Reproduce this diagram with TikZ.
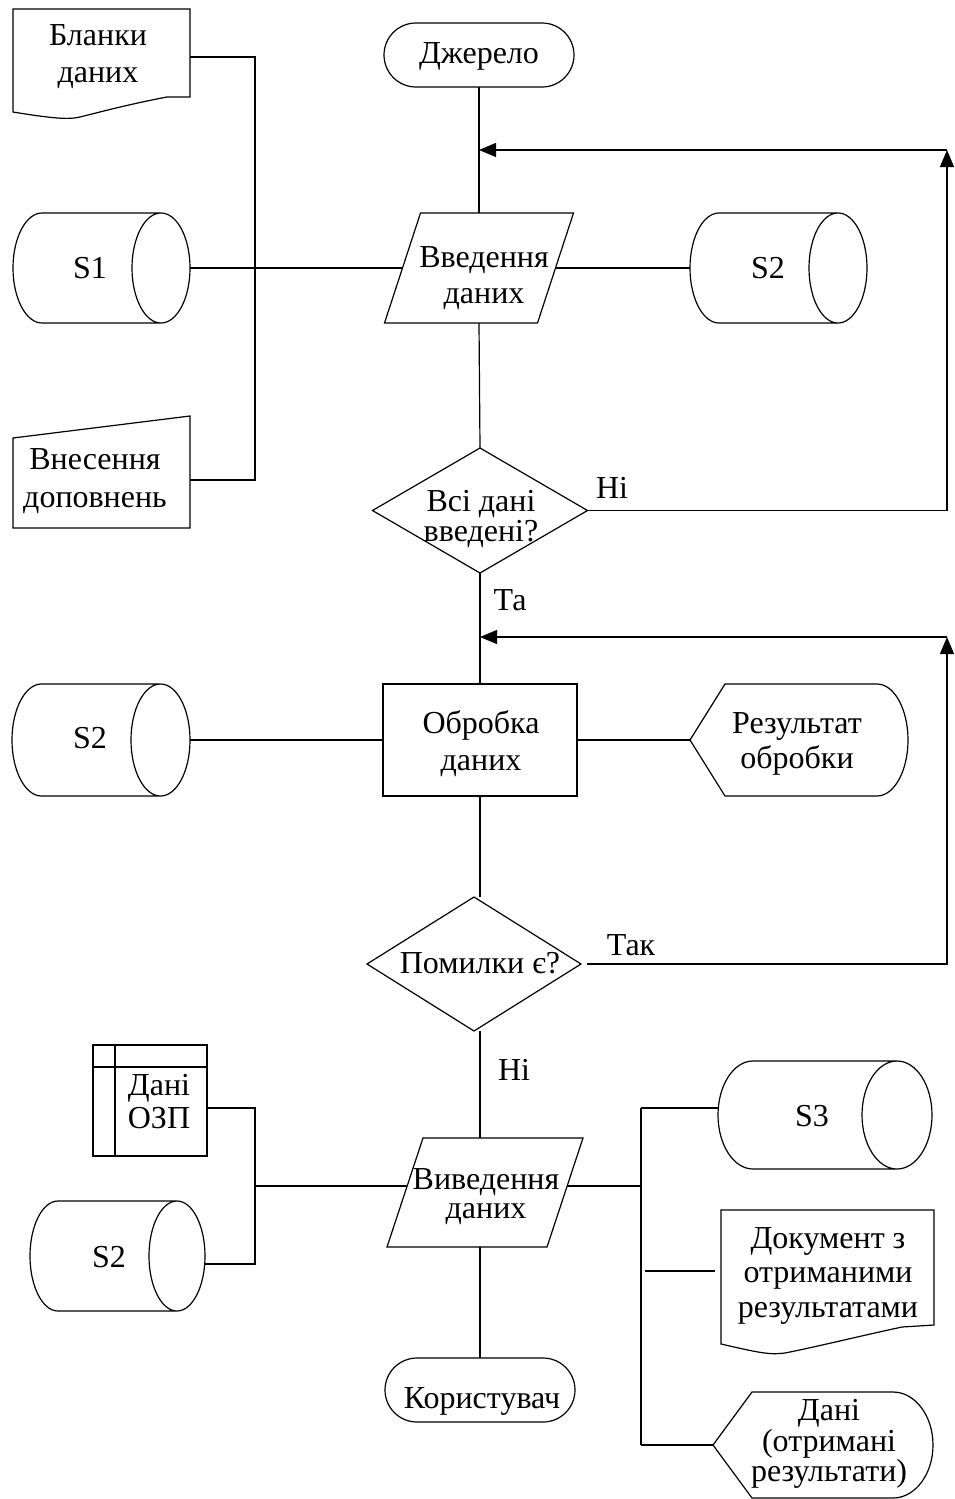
\documentclass[tikz,border=0pt]{standalone}
\usepackage{fontspec}
\setmainfont{Liberation Serif}
\usetikzlibrary{arrows.meta,calc}
\newcommand\cylshape[3]{%
  \draw ([xshift=#2pt]#1.north west) arc[start angle=90,end angle=270,x radius=#2pt,y radius=#3pt]
     -- ([xshift=-#2pt]#1.south east)
     ([xshift=-#2pt]#1.north east) -- ([xshift=#2pt]#1.north west)
     ([xshift=-#2pt]#1.east) ellipse[x radius=#2pt,y radius=#3pt];}
\newcommand\parashape[1]{%
  \draw ([xshift=36pt]#1.north west) -- (#1.north east) -- ([xshift=-36pt]#1.south east) -- (#1.south west) -- cycle;}
\begin{document}
\begin{tikzpicture}[x=1pt,y=-1pt,line width=1.2pt,
  geo/.style 2 args={inner sep=0pt,outer sep=0pt,minimum width=#1,minimum height=#2},
  lbl/.style={font=\fontsize{32}{#1}\selectfont,align=center,inner sep=0pt,anchor=base},
  lbl/.default=36,
  term/.style={draw,rounded corners=32pt},
  arr/.style={-{Triangle[length=17pt,width=14pt]}}]
\useasboundingbox (0,0) rectangle (955,1499);

% ---------- top part ----------
\node[geo={190}{64},term] (src) at (479,55) {};
\node[lbl] (tsrc) at (479,63) {Джерело};

\node[geo={177}{109}] (blank) at (101.5,63.5) {};
\draw (13,9) -- (190,9) -- (190,97) -- (167,97) .. controls (130,104) and (100,112) .. (80,117)
      .. controls (68,120) and (50,118) .. (13,112) -- cycle;
\node[lbl=37] (tblank) at (98,82) {Бланки\\даних};

\node[geo={177}{110}] (s1) at (101.5,268) {};
\cylshape{s1}{29}{55}
\node[lbl] (ts1) at (90,278) {S1};

\node[geo={189}{110}] (in) at (479,268) {};
\parashape{in}
\node[lbl] (tin) at (484,303) {Введення\\даних};

\node[geo={177}{110}] (s2a) at (778.5,268) {};
\cylshape{s2a}{29}{55}
\node[lbl] (ts2a) at (768,278) {S2};

\node[geo={177}{112}] (man) at (101.5,472) {};
\draw (13,438) -- (190,416) -- (190,528) -- (13,528) -- cycle;
\node[lbl=38] (tman) at (95,507) {Внесення\\доповнень};

\coordinate (bus1) at (255,268);
\draw ([yshift=6.5pt]blank.east) -| (bus1);
\draw ([yshift=-8pt]man.east) -| (bus1);
\draw (s1.east) -- ([xshift=18pt]in.west);
\draw ([xshift=-18pt]in.east) -- (s2a.west);
\draw (src.south) -- (in.north);

\node[geo={215}{125}] (d1) at (480,510.5) {};
\draw (d1.north) -- (d1.east) -- (d1.south) -- (d1.west) -- cycle;
\node[lbl=30] (td1) at (481,541) {Всі дані\\введені?};
\draw (in.south) -- (d1.north);

\coordinate (c1) at (947,150);
\draw[arr] (d1.east) -| (c1);
\draw[arr] (c1) -- (in.north |- c1);
\node[lbl] (tno1) at (612,498) {Ні};
\node[lbl] (tyes1) at (510,610) {Та};

% ---------- middle part ----------
\node[geo={194}{112},draw] (proc) at (480,740) {};
\node[lbl=37] (tproc) at (481,770) {Обробка\\даних};
\draw (d1.south) -- (proc.north);

\node[geo={178}{112}] (s2b) at (101,740) {};
\cylshape{s2b}{29.5}{56}
\node[lbl] (ts2b) at (90,748) {S2};
\draw (s2b.east) -- (proc.west);

\node[geo={218}{112}] (res) at (799,740) {};
\draw (690,740) -- (725,684) -- (877,684) arc[start angle=90,end angle=-90,x radius=31pt,y radius=56pt]
      -- (725,796) -- cycle;
\node[lbl=35] (tres) at (797,768) {Результат\\обробки};
\draw (proc.east) -- (res.west);

\node[geo={214}{134}] (d2) at (474,964) {};
\draw (d2.north) -- (d2.east) -- (d2.south) -- (d2.west) -- cycle;
\node[lbl] (td2) at (480,973) {Помилки є?};
\draw (proc.south) -- (proc.south |- d2.north);

\coordinate (c2) at (947,637);
\draw[arr] ([xshift=6pt]d2.east) -| (c2);
\draw[arr] (c2) -- (proc.north |- c2);
\node[lbl] (tyes2) at (631,955) {Так};

% ---------- bottom part ----------
\node[geo={196}{109}] (out) at (485,1192.5) {};
\parashape{out}
\node[lbl=29] (tout) at (486,1218) {Виведення\\даних};

\node[geo={190}{64},term] (usr) at (480,1390) {};
\node[lbl] (tusr) at (482,1408) {Користувач};

\draw (usr.north |- d2.south) -- (usr.north |- out.north);
\draw (usr.north |- out.south) -- (usr.north);
\node[lbl] (tno2) at (514,1080) {Ні};

\node[geo={114}{111},draw] (ram) at (150,1100.5) {};
\draw ([xshift=22pt]ram.north west) -- ([xshift=22pt]ram.south west);
\draw ([yshift=-22pt]ram.north west) -- ([yshift=-22pt]ram.north east);
\node[lbl=33] (tram) at (159,1128) {Дані\\ ОЗП};

\node[geo={175}{110}] (s2c) at (117.5,1256) {};
\cylshape{s2c}{28}{55}
\node[lbl] (ts2c) at (109,1267) {S2};

\coordinate (bus2) at (255,1186);
\draw ([yshift=-7.5pt]ram.east) -| (bus2);
\draw ([yshift=-8pt]s2c.east) -| (bus2);
\draw (bus2) -- ($(bus2 -| out.west)+(20,0)$);

\coordinate (bus3) at (641,1186);
\coordinate (bus3t) at (641,1108);
\coordinate (bus3b) at (641,1445);
\draw ($(bus3 -| out.east)+(-16,0)$) -- (bus3);
\draw (bus3t) -- (bus3b);

\node[geo={214}{108}] (s3) at (825,1115) {};
\cylshape{s3}{35}{54}
\node[lbl] (ts3) at (812,1126) {S3};
\draw (bus3t) -- ($(s3.west)+(1,-7)$);

\node[geo={213}{144}] (doc2) at (827.5,1282) {};
\draw (721,1210) -- (934,1210) -- (934,1325) -- (902,1327) .. controls (860,1336) and (820,1346) .. (785,1353)
      .. controls (770,1355) and (760,1353) .. (721,1344) -- cycle;
\node[lbl=34.5] (tdoc2) at (828,1317) {Документ з\\отриманими\\результатами};
\coordinate (f1) at (645,1271);
\coordinate (f2) at (715,1271);
\draw (f1) -- (f2);

\node[geo={220}{106}] (disp) at (823,1445) {};
\draw (713,1445) -- (752,1392) -- (893,1392) arc[start angle=90,end angle=-90,x radius=40pt,y radius=53pt]
      -- (752,1498) -- cycle;
\node[lbl=29] (tdisp) at (829,1481) {Дані\\(отримані\\результати)};
\draw (bus3b) -- (disp.west);
\end{tikzpicture}
\end{document}
